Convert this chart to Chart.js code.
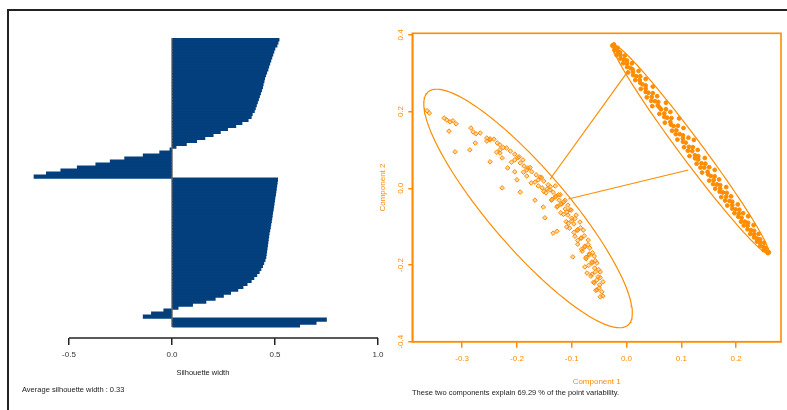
<!DOCTYPE html>
<html>
<head>
<meta charset="utf-8">
<script src="https://cdn.jsdelivr.net/npm/chart.js@4.4.1/dist/chart.umd.min.js"></script>
<style>
  html, body { margin: 0; padding: 0; background: #fff; overflow: hidden; }
  #wrap { position: relative; width: 787px; height: 410px; overflow: hidden; font-family: "Liberation Sans", Arial, sans-serif; }
  #frame { position: absolute; left: 7px; top: 9px; width: 820px; height: 430px; border-top: 2px solid #222; border-left: 2px solid #222; }
  canvas { position: absolute; top: 0; }
  #silCanvas { left: 0; }
  #clusCanvas { left: 360px; }
  .note { position: absolute; font-size: 7.5px; line-height: 1; color: #222; white-space: nowrap; }
</style>
</head>
<body>
<div id="wrap">
  <div id="frame"></div>
  <canvas id="silCanvas" width="390" height="410" style="width:390px;height:410px"></canvas>
  <canvas id="clusCanvas" width="427" height="410" style="width:427px;height:410px"></canvas>
  <div class="note" style="left:22px; top:386px;">Average silhouette width : 0.33</div>
  <div class="note" style="left:412px; top:389px;">These two components explain 69.29 % of the point variability.</div>
</div>
<script>
// silhouette widths, sorted within each cluster (cluster 1, 2, 3)
const silValues = [
  0.52, 0.515, 0.51, 0.50, 0.495, 0.49, 0.485, 0.48, 0.475, 0.47,
  0.466, 0.46, 0.455, 0.45, 0.447, 0.443, 0.44, 0.435, 0.43, 0.425,
  0.42, 0.415, 0.41, 0.405, 0.40, 0.39, 0.385, 0.37, 0.34, 0.31,
  0.27, 0.235, 0.20, 0.16, 0.12, 0.07, 0.02,
  -0.01, -0.06, -0.14, -0.23, -0.30, -0.37, -0.46, -0.54, -0.61, -0.67,
  0.513, 0.511, 0.509, 0.507, 0.505, 0.503, 0.50, 0.498, 0.496, 0.494,
  0.492, 0.489, 0.487, 0.485, 0.483, 0.48, 0.478, 0.475, 0.472, 0.47,
  0.468, 0.466, 0.464, 0.462, 0.46, 0.458, 0.456, 0.452, 0.446, 0.44,
  0.432, 0.424, 0.412, 0.398, 0.385, 0.365, 0.345, 0.32, 0.285, 0.25,
  0.21, 0.165, 0.10, 0.03, -0.04, -0.10, -0.14,
  0.75, 0.70, 0.62
];
const silTicks = [-0.5, 0, 0.5, 1];

// cluster plot: component scores
const cluster1Points = [
  [-0.364, 0.202], [-0.360, 0.196], [-0.333, 0.183], [-0.328, 0.178], [-0.322, 0.173],
  [-0.317, 0.176], [-0.311, 0.168], [-0.324, 0.149], [-0.313, 0.095], [-0.286, 0.100],
  [-0.284, 0.157], [-0.280, 0.147], [-0.275, 0.142], [-0.276, 0.118], [-0.267, 0.144],
  [-0.255, 0.131], [-0.249, 0.126], [-0.242, 0.128], [-0.236, 0.118], [-0.231, 0.113],
  [-0.231, 0.092], [-0.227, 0.079], [-0.249, 0.069], [-0.219, 0.105], [-0.212, 0.097],
  [-0.204, 0.089], [-0.196, 0.082], [-0.217, 0.053], [-0.204, 0.043], [-0.200, 0.022],
  [-0.227, 0.001], [-0.194, -0.010], [-0.194, 0.066], [-0.187, 0.058], [-0.180, 0.053],
  [-0.173, 0.043], [-0.182, 0.032], [-0.165, 0.035], [-0.158, 0.029], [-0.174, 0.014],
  [-0.151, 0.019], [-0.161, 0.006], [-0.167, -0.031], [-0.152, -0.049], [-0.149, -0.077],
  [-0.143, 0.009], [-0.140, -0.004], [-0.147, -0.012], [-0.134, -0.010], [-0.129, -0.020],
  [-0.137, -0.031], [-0.123, -0.031], [-0.118, -0.041], [-0.127, -0.049], [-0.112, -0.054],
  [-0.120, -0.064], [-0.134, -0.117], [-0.127, -0.112], [-0.107, -0.070], [-0.100, -0.078],
  [-0.110, -0.087], [-0.096, -0.093], [-0.104, -0.104], [-0.089, -0.109], [-0.109, -0.101],
  [-0.094, -0.125], [-0.083, -0.130], [-0.089, -0.146], [-0.076, -0.151], [-0.081, -0.164],
  [-0.098, -0.179], [-0.068, -0.171], [-0.074, -0.184], [-0.063, -0.192], [-0.076, -0.205],
  [-0.072, -0.221], [-0.058, -0.208], [-0.065, -0.229], [-0.052, -0.231], [-0.059, -0.247],
  [-0.049, -0.252], [-0.054, -0.265], [-0.045, -0.270], [-0.048, -0.283], [-0.043, -0.281],
  [-0.189, 0.074], [-0.154, 0.001], [-0.130, 0.006], [-0.121, -0.017], [-0.112, -0.031],
  [-0.107, -0.044], [-0.101, -0.057], [-0.092, -0.070], [-0.085, -0.088], [-0.079, -0.109],
  [-0.070, -0.135], [-0.067, -0.156], [-0.059, -0.177], [-0.054, -0.195], [-0.048, -0.218],
  [-0.043, -0.244],
  [-0.255, 0.123], [-0.231, 0.100], [-0.204, 0.074], [-0.182, 0.048], [-0.161, 0.022],
  [-0.145, -0.002], [-0.130, -0.023], [-0.120, -0.041], [-0.109, -0.062], [-0.100, -0.085],
  [-0.090, -0.109], [-0.083, -0.130], [-0.076, -0.153], [-0.068, -0.174], [-0.063, -0.195],
  [-0.057, -0.218], [-0.054, -0.239], [-0.050, -0.260],
  [-0.249, 0.129], [-0.225, 0.106], [-0.198, 0.080], [-0.176, 0.054], [-0.155, 0.028],
  [-0.139, 0.004], [-0.124, -0.017], [-0.114, -0.035], [-0.103, -0.056], [-0.094, -0.079],
  [-0.084, -0.103], [-0.077, -0.124], [-0.070, -0.147], [-0.062, -0.168], [-0.057, -0.189],
  [-0.051, -0.212], [-0.048, -0.233],
  [-0.237, 0.094], [-0.210, 0.068], [-0.188, 0.042], [-0.167, 0.016], [-0.151, -0.008],
  [-0.136, -0.029], [-0.126, -0.047], [-0.115, -0.068], [-0.106, -0.091], [-0.096, -0.115],
  [-0.089, -0.136], [-0.082, -0.159], [-0.074, -0.180], [-0.069, -0.201], [-0.063, -0.224],
  [-0.060, -0.245], [-0.056, -0.266]
];
const cluster2Points = [
  [-0.026, 0.372], [-0.023, 0.375], [-0.022, 0.360], [-0.016, 0.366], [-0.018, 0.347],
  [-0.012, 0.354], [-0.003, 0.346], [-0.011, 0.338], [-0.006, 0.326], [0.001, 0.333],
  [0.010, 0.326], [0.001, 0.316], [0.003, 0.302], [0.011, 0.310], [0.022, 0.306],
  [0.012, 0.295], [0.016, 0.282], [0.025, 0.292], [0.035, 0.285], [0.025, 0.275],
  [0.026, 0.259], [0.035, 0.268], [0.048, 0.265], [0.035, 0.251], [0.037, 0.237],
  [0.048, 0.248], [0.056, 0.240], [0.045, 0.228], [0.047, 0.214], [0.058, 0.225],
  [0.072, 0.223], [0.060, 0.211], [0.060, 0.194], [0.072, 0.206], [0.080, 0.199],
  [0.069, 0.186], [0.070, 0.171], [0.082, 0.183], [0.096, 0.182], [0.081, 0.166],
  [0.083, 0.150], [0.094, 0.163], [0.104, 0.157], [0.090, 0.141], [0.093, 0.127],
  [0.103, 0.138], [0.113, 0.132], [0.103, 0.121], [0.105, 0.107], [0.123, 0.126],
  [0.121, 0.107], [0.112, 0.098], [0.115, 0.084], [0.130, 0.100], [0.131, 0.084],
  [0.125, 0.078], [0.128, 0.064], [0.143, 0.079], [0.144, 0.064], [0.135, 0.054],
  [0.138, 0.041], [0.151, 0.055], [0.161, 0.048], [0.149, 0.036], [0.151, 0.020],
  [0.161, 0.031], [0.169, 0.023], [0.158, 0.011], [0.162, -0.001], [0.171, 0.008],
  [0.182, 0.003], [0.170, -0.009], [0.173, -0.023], [0.183, -0.012], [0.191, -0.021],
  [0.180, -0.032], [0.184, -0.045], [0.193, -0.035], [0.203, -0.042], [0.193, -0.053],
  [0.197, -0.065], [0.206, -0.056], [0.213, -0.065], [0.204, -0.074], [0.209, -0.087],
  [0.222, -0.073], [0.222, -0.090], [0.214, -0.097], [0.221, -0.107], [0.232, -0.096],
  [0.233, -0.111], [0.226, -0.119], [0.233, -0.128], [0.241, -0.119], [0.244, -0.133],
  [0.238, -0.139], [0.244, -0.150], [0.251, -0.142], [0.254, -0.156], [0.250, -0.161],
  [0.258, -0.169], [0.260, -0.167],
  [-0.022, 0.368], [-0.016, 0.357], [-0.011, 0.347], [-0.005, 0.336], [0.001, 0.325],
  [0.007, 0.314], [0.012, 0.303], [0.018, 0.292], [0.024, 0.282], [0.029, 0.271],
  [0.035, 0.260], [0.040, 0.249], [0.046, 0.238], [0.052, 0.227], [0.057, 0.216],
  [0.063, 0.206], [0.069, 0.195], [0.074, 0.184], [0.080, 0.173], [0.086, 0.162],
  [0.091, 0.151], [0.097, 0.141], [0.103, 0.130], [0.108, 0.119], [0.114, 0.108],
  [0.120, 0.097], [0.125, 0.086], [0.131, 0.075], [0.137, 0.065], [0.142, 0.054],
  [0.148, 0.043], [0.154, 0.032], [0.159, 0.021], [0.165, 0.010], [0.171, -0.001],
  [0.176, -0.011], [0.182, -0.022], [0.188, -0.033], [0.193, -0.044], [0.199, -0.055],
  [0.205, -0.066], [0.210, -0.077], [0.216, -0.087], [0.221, -0.098], [0.227, -0.109],
  [0.233, -0.120], [0.238, -0.131], [0.244, -0.142], [0.250, -0.153], [0.255, -0.163]
];
// cluster ellipses: centre, major and minor semi-axis vectors (data units)
const ellipseCentres = [[-0.1797, -0.0527], [0.1173, 0.1020]];
const ellipseMajor = [[0.1825, -0.3038], [0.1414, -0.2712]];
const ellipseMinor = [[0.054, 0.0662], [0.0161, 0.0172]];
// segments joining the clusters
const linkSegments = [
  [[-0.1396, 0.0235], [0.0022, 0.304]],
  [[-0.1062, -0.0279], [0.1128, 0.0477]]
];
const clusXTicks = [-0.3, -0.2, -0.1, 0, 0.1, 0.2];
const clusYTicks = [-0.4, -0.2, 0, 0.2, 0.4];

const FONT = '"Liberation Sans", Arial, sans-serif';
const NAVY = '#023f7c';
const ORANGE = '#ff8c00';

const silAxisLine = {
  id: 'silAxisLine',
  afterDatasetsDraw(chart) {
    const { ctx, scales: { x, y }, chartArea } = chart;
    ctx.save();
    ctx.strokeStyle = '#222';
    ctx.lineWidth = 1.5;
    ctx.beginPath();
    ctx.moveTo(x.getPixelForValue(silTicks[0]), chartArea.bottom);
    ctx.lineTo(x.getPixelForValue(silTicks[silTicks.length - 1]), chartArea.bottom);
    ctx.stroke();
    const x0 = x.getPixelForValue(0);
    ctx.lineWidth = 1;
    ctx.beginPath();
    ctx.moveTo(x0, y.getPixelForValue(-0.5));
    ctx.lineTo(x0, y.getPixelForValue(silValues.length - 0.5));
    ctx.stroke();
    ctx.restore();
  }
};

new Chart(document.getElementById('silCanvas'), {
  type: 'bar',
  data: {
    datasets: [{
      data: silValues.map((v, i) => ({ x: v, y: i })),
      backgroundColor: NAVY,
      borderWidth: 0,
      barThickness: 3.6
    }]
  },
  options: {
    indexAxis: 'y',
    responsive: false,
    animation: false,
    layout: { padding: { left: 27.8, right: 12, top: 38, bottom: 0 } },
    plugins: { legend: { display: false }, tooltip: { enabled: false } },
    scales: {
      y: {
        type: 'linear', display: false, reverse: true, bounds: 'data', offset: false,
        min: -0.5, max: 100.2,
        afterBuildTicks: s => { s.min = -0.5; s.max = 100.2; }
      },
      x: {
        type: 'linear', min: -0.7, max: 1.0,
        afterBuildTicks: s => { s.ticks = silTicks.map(v => ({ value: v })); },
        afterFit: s => { s.height = 72; },
        border: { display: false },
        grid: { drawOnChartArea: false, drawTicks: true, tickLength: 7, color: '#222', lineWidth: 1.5 },
        ticks: { padding: 5, color: '#333', font: { size: 8, family: FONT }, callback: v => v.toFixed(1), maxRotation: 0 },
        title: { display: true, text: 'Silhouette width', color: '#222', font: { size: 7.5, family: FONT }, padding: { top: 0, bottom: 33 } }
      }
    }
  },
  plugins: [silAxisLine]
});

const boxFrame = {
  id: 'boxFrame',
  afterDraw(chart) {
    const { ctx, chartArea: a } = chart;
    ctx.save();
    ctx.strokeStyle = ORANGE;
    ctx.lineWidth = 1.6;
    ctx.strokeRect(a.left, a.top, a.right - a.left, a.bottom - a.top);
    ctx.restore();
  }
};

function ellipsePath(c, u, v) {
  const pts = [];
  for (let k = 0; k <= 160; k++) {
    const t = 2 * Math.PI * k / 160;
    pts.push({ x: c[0] + u[0] * Math.cos(t) + v[0] * Math.sin(t), y: c[1] + u[1] * Math.cos(t) + v[1] * Math.sin(t) });
  }
  return pts;
}
const lineStyle = { showLine: true, pointRadius: 0, borderColor: ORANGE, borderWidth: 1.2, fill: false, tension: 0 };

const clusDatasets = ellipseCentres.map((c, i) => Object.assign({ data: ellipsePath(c, ellipseMajor[i], ellipseMinor[i]) }, lineStyle));
linkSegments.forEach(seg => clusDatasets.push(Object.assign({ data: seg.map(p => ({ x: p[0], y: p[1] })) }, lineStyle)));
clusDatasets.push({
  data: cluster1Points.map(p => ({ x: p[0], y: p[1] })),
  pointStyle: 'rectRot', pointRadius: 2.3, borderWidth: 1,
  borderColor: ORANGE, backgroundColor: 'rgba(255,140,0,0.35)'
});
clusDatasets.push({
  data: cluster2Points.map(p => ({ x: p[0], y: p[1] })),
  pointStyle: 'circle', pointRadius: 1.9, borderWidth: 1,
  borderColor: ORANGE, backgroundColor: ORANGE
});

new Chart(document.getElementById('clusCanvas'), {
  type: 'scatter',
  data: { datasets: clusDatasets },
  options: {
    responsive: false,
    animation: false,
    layout: { padding: { left: 0, right: 6, top: 33.3, bottom: 0 } },
    plugins: { legend: { display: false }, tooltip: { enabled: false } },
    scales: {
      x: {
        type: 'linear', min: -0.391, max: 0.282,
        afterBuildTicks: s => { s.ticks = clusXTicks.map(v => ({ value: v })); },
        afterFit: s => { s.height = 68.3; },
        border: { color: ORANGE, width: 1.6 },
        grid: { drawOnChartArea: false, drawTicks: true, tickLength: 6, color: ORANGE, lineWidth: 1.5 },
        ticks: { padding: 6, color: ORANGE, font: { size: 8, family: FONT }, callback: v => v.toFixed(1), maxRotation: 0 },
        title: { display: true, text: 'Component 1', color: ORANGE, font: { size: 8, family: FONT }, padding: { top: 0, bottom: 23 } }
      },
      y: {
        type: 'linear', min: -0.4, max: 0.404,
        afterBuildTicks: s => { s.ticks = clusYTicks.map(v => ({ value: v })); },
        afterFit: s => { s.width = 52.3; },
        border: { color: ORANGE, width: 1.6 },
        grid: { drawOnChartArea: false, drawTicks: true, tickLength: 4, color: ORANGE, lineWidth: 1.5 },
        ticks: { padding: 1, color: ORANGE, font: { size: 8, family: FONT }, callback: v => v.toFixed(1), minRotation: 90, maxRotation: 90, crossAlign: 'center' },
        title: { display: true, text: 'Component 2', color: ORANGE, font: { size: 8, family: FONT }, padding: { top: 18, bottom: 0 } }
      }
    }
  },
  plugins: [boxFrame]
});
</script>
</body>
</html>
